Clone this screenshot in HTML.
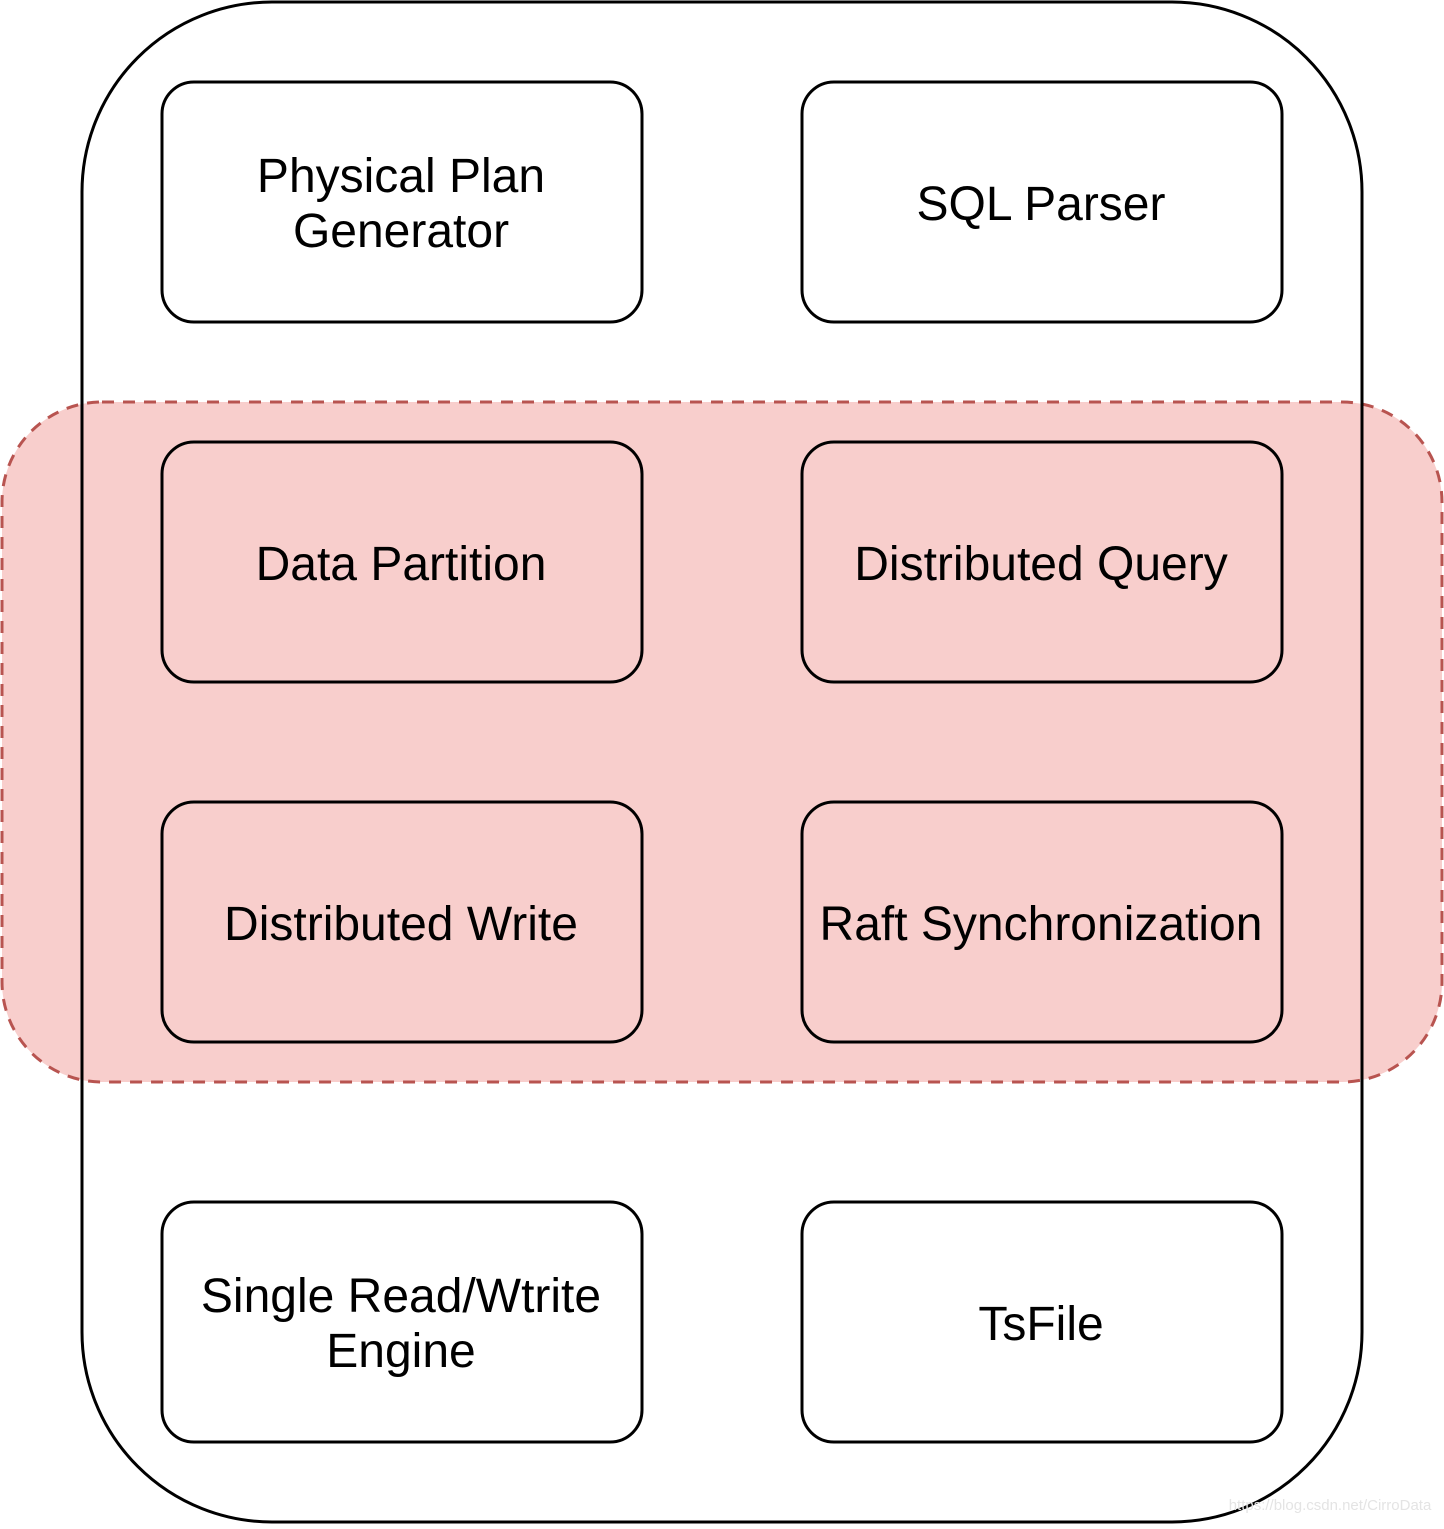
<!DOCTYPE html>
<html><head><style>body{margin:0;background:#fff}</style></head><body>
<svg width="1444" height="1524" viewBox="0 0 1444 1524" xmlns="http://www.w3.org/2000/svg" font-family="Liberation Sans, Arial, sans-serif" font-size="48" text-anchor="middle">
<rect x="2" y="402" width="1440" height="680" rx="100" fill="#f8cecc" stroke="#b85450" stroke-width="3" stroke-dasharray="12,9"/>
<rect x="82" y="2" width="1280" height="1520" rx="190" fill="none" stroke="#000" stroke-width="3"/>
<g fill="none" stroke="#000" stroke-width="3">
<rect x="162" y="82" width="480" height="240" rx="32" fill="#fff"/>
<rect x="802" y="82" width="480" height="240" rx="32" fill="#fff"/>
<rect x="162" y="442" width="480" height="240" rx="32"/>
<rect x="802" y="442" width="480" height="240" rx="32"/>
<rect x="162" y="802" width="480" height="240" rx="32"/>
<rect x="802" y="802" width="480" height="240" rx="32"/>
<rect x="162" y="1202" width="480" height="240" rx="32" fill="#fff"/>
<rect x="802" y="1202" width="480" height="240" rx="32" fill="#fff"/>
</g>
<g fill="#000">
<text x="401" y="192">Physical Plan</text>
<text x="401" y="247">Generator</text>
<text x="1041" y="220">SQL Parser</text>
<text x="401" y="580">Data Partition</text>
<text x="1041" y="580">Distributed Query</text>
<text x="401" y="940">Distributed Write</text>
<text x="1041" y="940">Raft Synchronization</text>
<text x="401" y="1312">Single Read/Wtrite</text>
<text x="401" y="1367">Engine</text>
<text x="1041" y="1340">TsFile</text>
</g>
<text x="1330" y="1510" font-size="15" fill="#e4e4e4">https://blog.csdn.net/CirroData</text>
</svg>
</body></html>
